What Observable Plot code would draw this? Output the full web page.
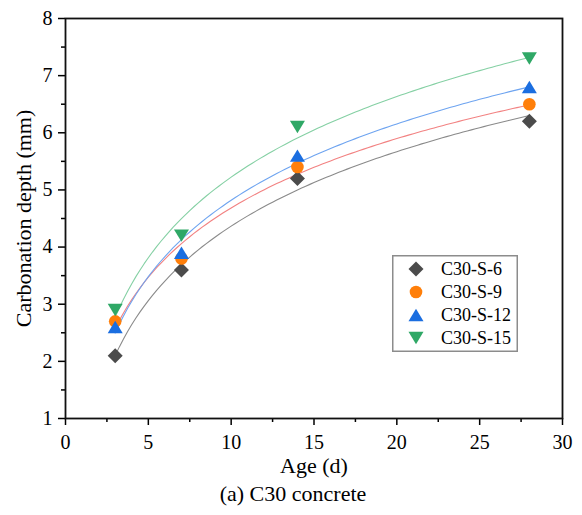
<!DOCTYPE html>
<html><head><meta charset="utf-8">
<script src="https://cdn.jsdelivr.net/npm/d3@7"></script>
<script src="https://cdn.jsdelivr.net/npm/@observablehq/plot@0.6"></script>
<style>
body{margin:0;background:#fff;}
#wrap{position:relative;width:582px;height:515px;}
#legend{position:absolute;left:392px;top:255px;}
</style></head><body><div id="wrap"></div>
<script>
const ages = [3, 7, 14, 28];
const seriesNames = ["C30-S-6", "C30-S-9", "C30-S-12", "C30-S-15"];
const depthS6 = [2.1, 3.6, 5.2, 6.2];
const depthS9 = [2.7, 3.8, 5.4, 6.5];
const depthS12 = [2.6, 3.9, 5.6, 6.8];
const depthS15 = [2.9, 4.2, 6.1, 7.3];
const xTicks = [0, 5, 10, 15, 20, 25, 30];
const xMinor = [2.5, 7.5, 12.5, 17.5, 22.5, 27.5];
const yTicks = [1, 2, 3, 4, 5, 6, 7, 8];
const yMinor = [1.5, 2.5, 3.5, 4.5, 5.5, 6.5, 7.5];
const markerColors = ["#4b4b4b", "#ff7f0a", "#1b6ee0", "#2fa866"];
const fitColors = ["#8a8a8a", "#f28282", "#6ea4f0", "#85d0a4"];
const allDepths = [depthS6, depthS9, depthS12, depthS15];

const diamond = {draw(ctx){ const r = 7.5; ctx.moveTo(0,-r); ctx.lineTo(r,0); ctx.lineTo(0,r); ctx.lineTo(-r,0); ctx.closePath(); }};
const circle = {draw(ctx){ const r = 6.3; ctx.moveTo(r,0); ctx.arc(0,0,r,0,2*Math.PI); ctx.closePath(); }};
const triUp = {draw(ctx){ const w = 7.5, h = 6.2; ctx.moveTo(0,-h); ctx.lineTo(w,h); ctx.lineTo(-w,h); ctx.closePath(); }};
const triDown = {draw(ctx){ const w = 7.5, h = 6.2; ctx.moveTo(0,h); ctx.lineTo(w,-h); ctx.lineTo(-w,-h); ctx.closePath(); }};
const symbols = [diamond, circle, triUp, triDown];

// logarithmic least-squares fit y = a + b ln(x), computed from the data
function logFit(xs, ys) {
  const lx = xs.map(Math.log);
  const mx = d3.mean(lx), my = d3.mean(ys);
  const b = d3.sum(lx, (v, i) => (v - mx) * (ys[i] - my)) / d3.sum(lx, v => (v - mx) ** 2);
  return {a: my - b * mx, b};
}
const points = [];
const fits = [];
seriesNames.forEach((name, s) => {
  const ys = allDepths[s];
  ages.forEach((x, i) => points.push({series: name, s, x, y: ys[i]}));
  const f = logFit(ages, ys);
  for (const x of d3.range(ages[0], ages[ages.length - 1] + 1e-9, 0.25)) {
    fits.push({series: name, s, x, y: f.a + f.b * Math.log(x)});
  }
});
const font = "Liberation Serif";
const chart = Plot.plot({
  width: 582, height: 515,
  marginLeft: 65, marginRight: 20, marginTop: 18, marginBottom: 97,
  style: {fontFamily: font, color: "#000", background: "#fff"},
  x: {domain: [0, 30]},
  y: {domain: [1, 8]},
  marks: [
    ...seriesNames.map((name, s) => Plot.line(fits.filter(d => d.s === s), {x: "x", y: "y", stroke: fitColors[s], strokeWidth: 1.1})),
    ...seriesNames.map((name, s) => Plot.dot(points.filter(d => d.s === s), {x: "x", y: "y", symbol: symbols[s], fill: markerColors[s], stroke: "none"})),
    Plot.axisX({ticks: xTicks, tickSize: 7, tickPadding: 9, fontSize: 20, label: null, strokeWidth: 1.5, tickFormat: d3.format("d")}),
    Plot.axisX({ticks: xMinor, tickSize: 4, text: null, label: null, strokeWidth: 1.5}),
    Plot.axisY({ticks: yTicks, tickSize: 7, tickPadding: 6, fontSize: 20, label: null, strokeWidth: 1.5, tickFormat: d3.format("d")}),
    Plot.axisY({ticks: yMinor, tickSize: 4, text: null, label: null, strokeWidth: 1.5}),
    Plot.frame({stroke: "#111", strokeWidth: 1.8}),
    Plot.text(["Age (d)"], {frameAnchor: "bottom", dy: 54, fontSize: 22, fill: "#000", fontFamily: font}),
    Plot.text(["(a) C30 concrete"], {frameAnchor: "bottom", dy: 82.5, dx: -21, fontSize: 22, fill: "#000", fontFamily: font}),
    Plot.text(["Carbonation depth (mm)"], {frameAnchor: "left", textAnchor: "middle", dx: -42, rotate: -90, fontSize: 22, fill: "#000", fontFamily: font})
  ]
});
document.getElementById("wrap").appendChild(chart);
const lg = d3.select("#wrap").append("svg").attr("id", "legend")
  .attr("width", 126).attr("height", 97);
lg.append("rect").attr("x", 0.75).attr("y", 0.75).attr("width", 124.5).attr("height", 95.5)
  .attr("fill", "#fff").attr("stroke", "#8c8c8c").attr("stroke-width", 1.5);
seriesNames.forEach((name, s) => {
  const cy = 14 + s * 23;
  lg.append("path").attr("transform", `translate(24,${cy})`)
    .attr("d", d3.symbol(symbols[s])()).attr("fill", markerColors[s]);
  lg.append("text").attr("x", 49).attr("y", cy).attr("dy", "0.35em")
    .attr("font-family", font).attr("font-size", 18).attr("fill", "#000").text(name);
});
</script></body></html>
